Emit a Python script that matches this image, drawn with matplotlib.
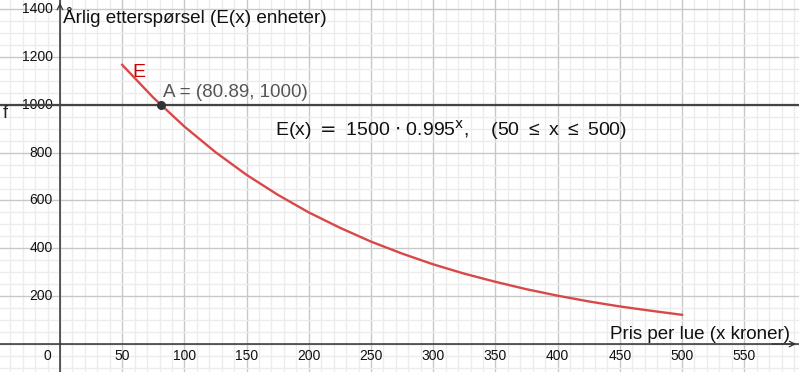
import matplotlib
matplotlib.use('Agg')
import matplotlib.pyplot as plt
import numpy as np

# demand, every 25 kr
price = [50, 75, 100, 125, 150, 175, 200, 225, 250, 275, 300,
         325, 350, 375, 400, 425, 450, 475, 500]
demand = [1167, 1030, 909, 802, 707, 624, 550, 486, 428, 378, 333,
          294, 260, 229, 202, 178, 157, 139, 122]
level_f = 1000
point_A = (80.89, 1000)
x_ticks = [50, 100, 150, 200, 250, 300, 350, 400, 450, 500, 550]
y_ticks = [200, 400, 600, 800, 1000, 1200, 1400]

plt.rcParams['font.family'] = ['Liberation Sans', 'DejaVu Sans']
plt.rcParams['mathtext.fontset'] = 'dejavusans'

fig = plt.figure(figsize=(7.99, 3.72), dpi=100)
ax = fig.add_axes([0, 0, 1, 1])
ax.set_xlim(-48.2, 594)
ax.set_ylim(-117, 1438)
for s in ax.spines.values():
    s.set_visible(False)
ax.set_xticks([])
ax.set_yticks([])

# grid
for gx in np.arange(-40, 600, 10):
    major = gx % 50 == 0
    ax.axvline(gx, color='#c8c8c8' if major else '#ececec', lw=1.0, zorder=0)
for gy in np.arange(-100, 1450, 50):
    major = gy % 200 == 0
    ax.axhline(gy, color='#c8c8c8' if major else '#ececec', lw=1.0, zorder=0)

# axes
ax.axhline(0, color='#333333', lw=1.1, zorder=2)
ax.axvline(0, color='#333333', lw=1.1, zorder=2)
ax.annotate('', xy=(0, 1438), xytext=(0, 1400),
            arrowprops=dict(arrowstyle='->', color='#333333', lw=0.9))
ax.annotate('', xy=(594, 0), xytext=(570, 0),
            arrowprops=dict(arrowstyle='->', color='#333333', lw=0.9))

for t in x_ticks:
    ax.text(t, -52, str(t), ha='center', va='center', fontsize=10,
            color='#111111')
for t in y_ticks:
    ax.text(-6, t, str(t), ha='right', va='center', fontsize=10,
            color='#111111')
ax.text(-10, -52, '0', ha='center', va='center', fontsize=10, color='#111111')

# horizontal line f
ax.axhline(level_f, color='#444444', lw=1.6, zorder=3)
ax.text(-44, 962, 'f', ha='center', va='center', fontsize=13, color='#222222')

# curve E
ax.plot(price, demand, color='#d94848', lw=1.7, zorder=4)
ax.text(58, 1133, 'E', ha='left', va='center', fontsize=14, color='#cc0000')

# point A
ax.plot(point_A[0], point_A[1], 'o', color='#333333', ms=5.5, zorder=5)
ax.text(82.5, 1050, 'A = (80.89, 1000)', ha='left', va='center',
        fontsize=13.5, color='#555555')

# formula
ax.text(172.5, 895,
        r'E(x) $=$ 1500 $\cdot$ 0.995$^{\mathsf{x}}$,    '
        '(50\u2009 ≤ \u2009x\u2009 ≤ \u2009500)',
        ha='left', va='center', fontsize=14, color='#111111')

# axis titles
ax.text(2.5, 1367, 'Årlig etterspørsel (E(x) enheter)', ha='left',
        va='center', fontsize=13.6, color='#111111')
ax.text(587, 38, 'Pris per lue (x kroner)', ha='right', va='center',
        fontsize=13.5, color='#111111')

fig.savefig('out.png', dpi=100)
